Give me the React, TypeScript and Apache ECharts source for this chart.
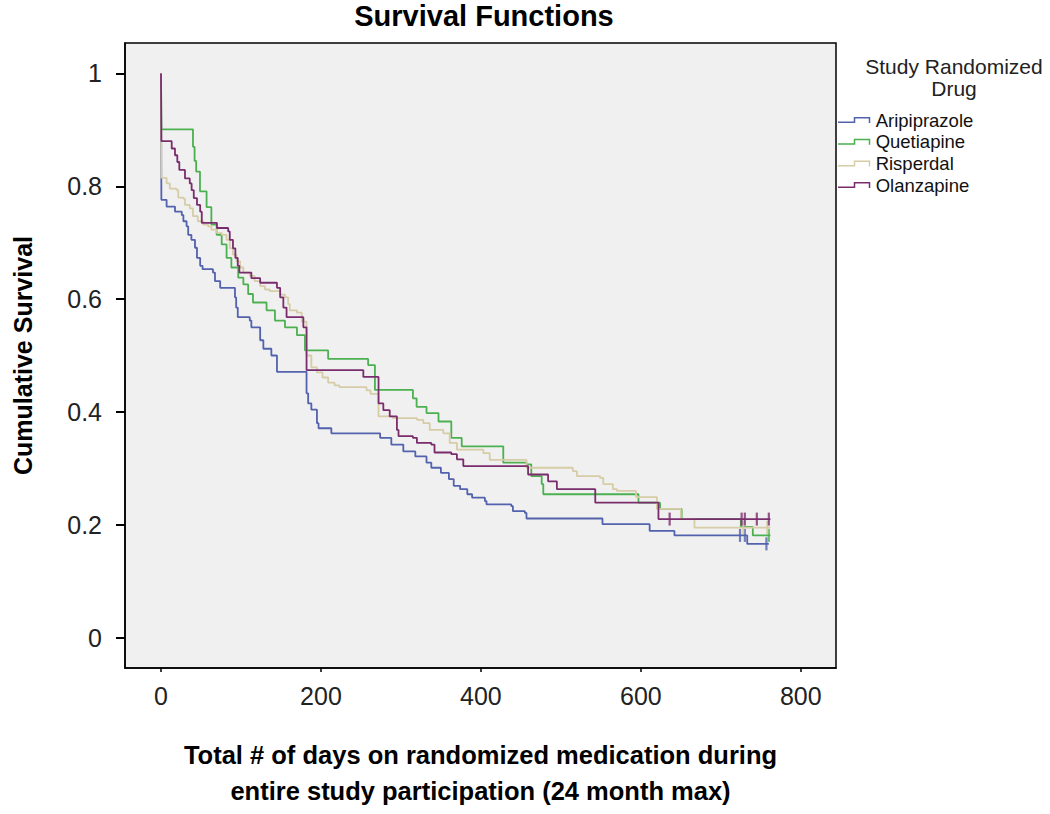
import React, { useEffect, useRef } from "react";
import * as echarts from "echarts";

// Kaplan-Meier step points: [day, cumulative survival]
const aripiprazole: [number, number][] = [
  [0, 1], [0.5, 0.776], [7, 0.764], [17.5, 0.755], [26, 0.749], [28, 0.738], [32, 0.729],
  [34, 0.714], [38, 0.705], [42.5, 0.691], [45, 0.673], [49, 0.659], [52, 0.653], [65, 0.647],
  [67.5, 0.632], [74, 0.62], [92.5, 0.603], [94, 0.585], [96, 0.568], [111, 0.562], [113, 0.55],
  [124, 0.527], [128, 0.512], [138, 0.5], [145, 0.471], [182, 0.433], [184, 0.415], [188, 0.404],
  [195, 0.38], [197, 0.371], [213, 0.362], [274, 0.354], [288, 0.342], [303, 0.33], [318, 0.321],
  [332, 0.31], [338, 0.301], [350, 0.292], [360, 0.281], [366, 0.269], [374, 0.263], [383, 0.254],
  [389, 0.248], [405, 0.242], [407, 0.236], [438, 0.233], [440, 0.224], [455, 0.221], [457, 0.211],
  [552, 0.201], [611, 0.189], [642, 0.181], [733, 0.166], [760, 0.166],
];
const quetiapine: [number, number][] = [
  [0, 1], [0.5, 0.901], [40, 0.87], [42, 0.845], [44, 0.826], [48.75, 0.791], [57, 0.763],
  [63, 0.732], [69.6, 0.714], [75.9, 0.697], [82, 0.673], [88, 0.656], [96.6, 0.638], [103, 0.626],
  [109, 0.609], [115, 0.594], [132, 0.58], [142.5, 0.562], [155, 0.55], [170, 0.536], [180, 0.509],
  [209, 0.494], [259, 0.483], [267.5, 0.439], [315, 0.424], [319.6, 0.409], [332, 0.398],
  [347, 0.383], [363, 0.354], [376, 0.339], [428, 0.31], [457, 0.307], [463, 0.286], [476, 0.272],
  [478, 0.254], [597, 0.239], [624, 0.228], [651, 0.21], [725, 0.196], [740, 0.181], [762, 0.181],
];
const risperdal: [number, number][] = [
  [0, 1], [0.5, 0.815], [7, 0.805], [11, 0.796], [19.6, 0.793], [21.6, 0.78], [28, 0.778],
  [30, 0.767], [36, 0.761], [40, 0.747], [46, 0.738], [53, 0.732], [59, 0.729], [63, 0.723],
  [70, 0.717], [76, 0.714], [82, 0.705], [86, 0.69], [90, 0.679], [94.5, 0.667], [99, 0.656],
  [103, 0.647], [111, 0.641], [117, 0.632], [124, 0.623], [130, 0.617], [136, 0.614], [149, 0.608],
  [155, 0.603], [159, 0.591], [161, 0.58], [170, 0.576], [176, 0.56], [182, 0.5], [188, 0.479],
  [195, 0.47], [202, 0.461], [209, 0.452], [217, 0.447], [223, 0.444], [257, 0.438], [262, 0.432],
  [272, 0.392], [290, 0.389], [320, 0.386], [328, 0.38], [336, 0.368], [353, 0.362], [361, 0.345],
  [370, 0.333], [403, 0.327], [411, 0.315], [457, 0.301], [515, 0.295], [520, 0.286], [549, 0.283],
  [553, 0.272], [565, 0.263], [570, 0.26], [594, 0.249], [620, 0.228], [650, 0.21], [667, 0.195],
  [762, 0.195],
];
const olanzapine: [number, number][] = [
  [0, 1], [0.5, 0.88], [13.4, 0.867], [17.5, 0.855], [20.4, 0.843], [22.9, 0.829], [30, 0.814],
  [36, 0.805], [38.3, 0.793], [41, 0.779], [45, 0.767], [49, 0.755], [51, 0.735], [70, 0.726],
  [84, 0.72], [86, 0.705], [90, 0.69], [93, 0.673], [96, 0.659], [98, 0.647], [113, 0.637],
  [124, 0.629], [145, 0.62], [149, 0.603], [153, 0.585], [157, 0.568], [178, 0.55], [182, 0.474],
  [253, 0.462], [272, 0.415], [278, 0.403], [286, 0.392], [295, 0.368], [297, 0.357], [315, 0.354],
  [320, 0.345], [338, 0.342], [342, 0.328], [363, 0.325], [370, 0.316], [378, 0.304], [459, 0.289],
  [484, 0.277], [495, 0.263], [543, 0.239], [622, 0.21], [762, 0.21],
];

// censored observations
const censorAripiprazole: [number, number][] = [[724, 0.181], [730, 0.181], [757, 0.166]];
const censorQuetiapine: [number, number][] = [[760, 0.181]];
const censorRisperdal: [number, number][] = [[728, 0.195], [758, 0.195]];
const censorOlanzapine: [number, number][] = [[636, 0.21], [726, 0.21], [730, 0.21], [745, 0.21], [760, 0.21]];

const drugNames = ["Aripiprazole", "Quetiapine", "Risperdal", "Olanzapine"];
const drugColors = ["#5262ad", "#4cb050", "#d6cca6", "#7a2d6c"];
const xTicks = [0, 200, 400, 600, 800];
const yTicks = [0, 0.2, 0.4, 0.6, 0.8, 1];

const FONT = '"Liberation Sans", Arial, sans-serif';
const STEP_ICON = "path://M0,45H157.5V0H322.5V60H307.5V15H172.5V60H0Z";

export default function App() {
  const ref = useRef<HTMLDivElement>(null);
  useEffect(() => {
    if (!ref.current) return;
    const chart = echarts.init(ref.current, undefined, { renderer: "svg" });
    const curves = [aripiprazole, quetiapine, risperdal, olanzapine];
    const censors = [censorAripiprazole, censorQuetiapine, censorRisperdal, censorOlanzapine];
    const series: any[] = [];
    drugNames.forEach((name, i) => {
      series.push({
        name,
        type: "line",
        step: "end",
        data: curves[i],
        showSymbol: false,
        color: drugColors[i],
        lineStyle: { color: drugColors[i], width: 1.8 },
        z: 2 + i,
      });
    });
    drugNames.forEach((name, i) => {
      series.push({
        name,
        type: "scatter",
        data: censors[i],
        symbol: "rect",
        symbolSize: [2.2, 13],
        itemStyle: { color: drugColors[i] },
        z: 10,
      });
    });
    chart.setOption({
      animation: false,
      backgroundColor: "#ffffff",
      grid: {
        left: 125,
        top: 43,
        right: 214,
        bottom: 141,
        show: true,
        backgroundColor: "#f0f0f0",
        borderColor: "#000",
        borderWidth: 1.5,
      },
      xAxis: {
        type: "value",
        min: -45,
        max: 844,
        axisLine: { show: true, onZero: false, lineStyle: { color: "#000", width: 1.5 } },
        splitLine: { show: false },
        axisTick: {
          show: true,
          customValues: xTicks,
          length: 4,
          lineStyle: { color: "#000", width: 1.5 },
        },
        axisLabel: {
          customValues: xTicks,
          fontSize: 25,
          margin: 15,
          color: "#222",
          fontFamily: FONT,
        },
        name: "Total # of days on randomized medication during\nentire study participation (24 month max)",
        nameLocation: "middle",
        nameGap: 69,
        nameTextStyle: {
          fontSize: 25.5,
          fontWeight: "bold",
          lineHeight: 36,
          color: "#000",
          fontFamily: FONT,
        },
      },
      yAxis: {
        type: "value",
        min: -0.054,
        max: 1.054,
        axisLine: { show: true, onZero: false, lineStyle: { color: "#000", width: 1.5 } },
        splitLine: { show: false },
        axisTick: {
          show: true,
          customValues: yTicks,
          length: 9,
          lineStyle: { color: "#000", width: 2 },
        },
        axisLabel: {
          customValues: yTicks,
          fontSize: 25,
          margin: 23,
          color: "#222",
          fontFamily: FONT,
          formatter: (v: number) => String(Math.round(v * 10) / 10),
        },
        name: "Cumulative Survival",
        nameLocation: "middle",
        nameRotate: 90,
        nameGap: 90,
        nameTextStyle: {
          fontSize: 25,
          fontWeight: "bold",
          color: "#000",
          fontFamily: FONT,
        },
      },
      legend: {
        orient: "vertical",
        left: 838,
        top: 110,
        itemWidth: 33,
        itemHeight: 6,
        itemGap: 1.7,
        data: drugNames.map((n) => ({ name: n, icon: STEP_ICON })),
        textStyle: { fontSize: 18.5, lineHeight: 20, color: "#111", fontFamily: FONT },
        padding: 0,
      },
      graphic: [
        {
          type: "text",
          x: 484,
          y: 16,
          style: {
            text: "Survival Functions",
            font: `bold 29px ${FONT}`,
            fill: "#000",
            align: "center",
            verticalAlign: "middle",
          },
        },
        {
          type: "text",
          x: 954,
          y: 66.5,
          style: {
            text: "Study Randomized",
            font: `21px ${FONT}`,
            fill: "#222",
            align: "center",
            verticalAlign: "middle",
          },
        },
        {
          type: "text",
          x: 954,
          y: 88.5,
          style: {
            text: "Drug",
            font: `21px ${FONT}`,
            fill: "#222",
            align: "center",
            verticalAlign: "middle",
          },
        },
      ],
      series,
    });
    return () => chart.dispose();
  }, []);
  return (
    <div
      ref={ref}
      style={{ position: "absolute", left: 0, top: 0, width: 1050, height: 814 }}
    />
  );
}
